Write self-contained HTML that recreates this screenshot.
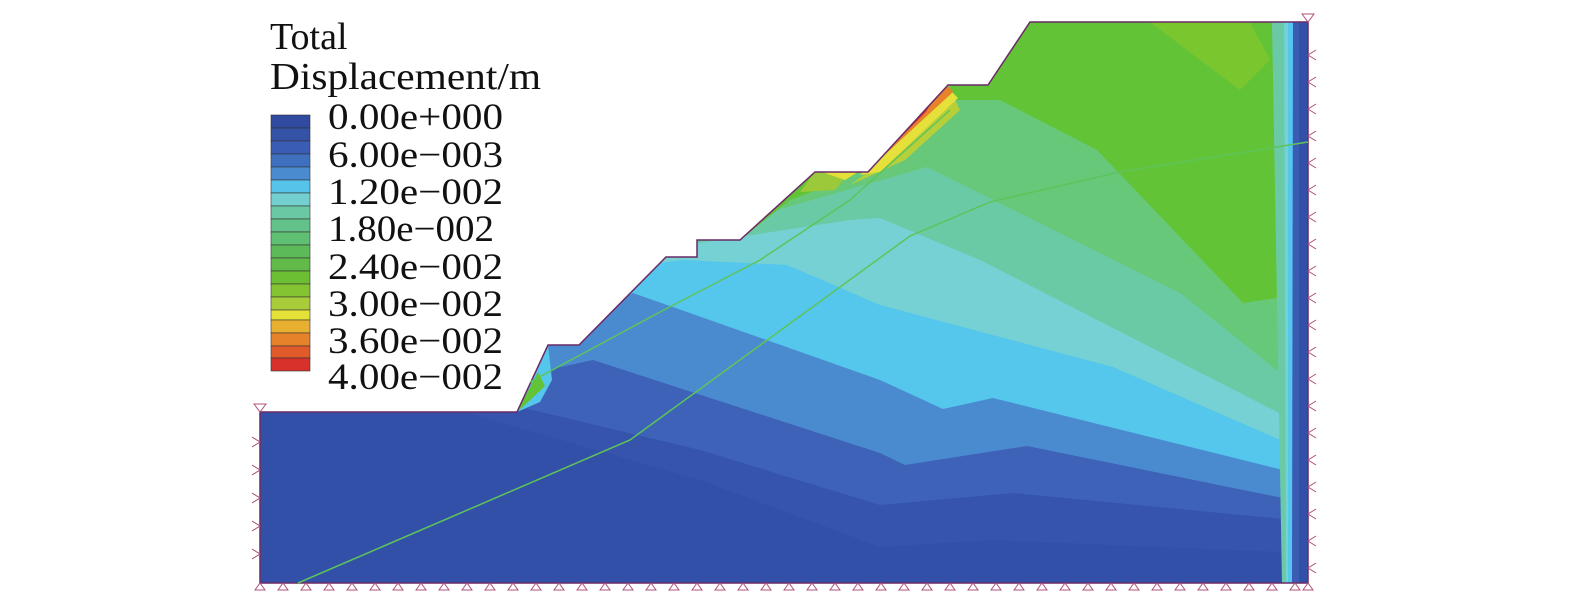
<!DOCTYPE html>
<html><head><meta charset="utf-8"><style>
html,body{margin:0;padding:0;background:#fff;}
svg{display:block}
text{font-family:"Liberation Serif",serif;fill:#111}
</style></head><body>
<svg width="1575" height="610" viewBox="0 0 1575 610" xmlns="http://www.w3.org/2000/svg">
<defs>
<clipPath id="dom"><polygon points="260,583 260,412 512,412 517,412 548,345 579,345 666,257 697,257 697,240 740,240 815,172 868,172 948,85 988,85 1030,22 1308,22 1308,583"/></clipPath>
</defs>
<g clip-path="url(#dom)">
<rect x="250" y="0" width="1100" height="600" fill="#3250a8"/>
<polygon fill="#3654ac" points="440,405 700,480 880,547 993,540 1303,553 1303,0 440,0"/>
<polygon fill="#3d62b8" points="470,395 700,450 880,505 1013,493 1293,520 1293,0 470,0"/>
<polygon fill="#4a8bd0" points="500,380 593,360 880,453 905,465 1027,446 1283,498 1290,0 500,0"/>
<polygon fill="#55c6ec" points="530,345 633,293 880,380 943,409 993,398 1283,470 1290,0 530,0"/>
<polygon fill="#75d1d3" points="600,270 683,260 787,265 880,305 1113,367 1287,443 1290,0 600,0"/>
<polygon fill="#6bcaa6" points="650,250 700,243 850,220 880,218 980,260 1287,417 1290,0 650,0"/>
<polygon fill="#67c87a" points="700,230 777,210 927,167 1180,293 1293,383 1295,0 700,0"/>
<polygon fill="#63c337" points="950,100 1000,100 1097,150 1243,303 1283,297 1295,0 950,0"/>
<polygon fill="#63c337" points="740,240 790,200 830,185 860,172 800,172 760,210"/>
<polygon fill="#7ac62e" points="1150,22 1250,22 1270,60 1240,90 1200,60"/>
<polygon fill="#9cc93a" points="815,172 850,172 835,190 800,192"/>
<polygon fill="#e4e238" points="822,172 858,172 845,180"/>
<polygon fill="#b7d03a" points="850,185 900,150 955,100 960,110 905,160"/>
<polygon fill="#e5e03a" points="860,175 948,88 958,98 880,172"/>
<polygon fill="#e6822a" points="858,173 948,86 953,92 866,172"/>
<polygon fill="#d8372a" points="862,172 930,105 926,112 870,168"/>
<polygon fill="#6bcaa6" points="1272,22 1290,22 1290,583 1282,583"/>
<polygon fill="#75d1d3" points="1284,22 1292,22 1292,583 1286,583"/>
<polygon fill="#55c6ec" points="1288,22 1294,22 1294,583 1288,583"/>
<polygon fill="#3a5cb4" points="1293,22 1308,22 1308,583 1292,583"/>
<polygon fill="#3250a8" points="1299,22 1308,22 1308,583 1299,583"/>
<polygon fill="#55c6ec" points="517,412 548,345 552,380 540,402"/>
<polygon fill="#63c337" points="517,412 538,372 545,386 526,404"/>
</g>
<polygon fill="none" stroke="#6a2a66" stroke-width="1.5" points="260,583 260,412 512,412 517,412 548,345 579,345 666,257 697,257 697,240 740,240 815,172 868,172 948,85 988,85 1030,22 1308,22 1308,583"/>
<polyline fill="none" stroke="#5ec45a" stroke-width="1.5" points="298,583 630,440 910,236 990,202 1120,172 1308,142"/>
<polyline fill="none" stroke="#5ec45a" stroke-width="1.5" points="530,382 660,312 760,260 850,200 950,110"/>
<g stroke="#b0507a" stroke-width="1" fill="none">
<path d="M255,590 l5,-7 l5,7 z M278,590 l5,-7 l5,7 z M301,590 l5,-7 l5,7 z M324,590 l5,-7 l5,7 z M347,590 l5,-7 l5,7 z M370,590 l5,-7 l5,7 z M393,590 l5,-7 l5,7 z M416,590 l5,-7 l5,7 z M439,590 l5,-7 l5,7 z M462,590 l5,-7 l5,7 z M485,590 l5,-7 l5,7 z M508,590 l5,-7 l5,7 z M531,590 l5,-7 l5,7 z M554,590 l5,-7 l5,7 z M577,590 l5,-7 l5,7 z M600,590 l5,-7 l5,7 z M623,590 l5,-7 l5,7 z M646,590 l5,-7 l5,7 z M669,590 l5,-7 l5,7 z M692,590 l5,-7 l5,7 z M715,590 l5,-7 l5,7 z M738,590 l5,-7 l5,7 z M761,590 l5,-7 l5,7 z M784,590 l5,-7 l5,7 z M807,590 l5,-7 l5,7 z M830,590 l5,-7 l5,7 z M853,590 l5,-7 l5,7 z M876,590 l5,-7 l5,7 z M899,590 l5,-7 l5,7 z M922,590 l5,-7 l5,7 z M945,590 l5,-7 l5,7 z M968,590 l5,-7 l5,7 z M991,590 l5,-7 l5,7 z M1014,590 l5,-7 l5,7 z M1037,590 l5,-7 l5,7 z M1060,590 l5,-7 l5,7 z M1083,590 l5,-7 l5,7 z M1106,590 l5,-7 l5,7 z M1129,590 l5,-7 l5,7 z M1152,590 l5,-7 l5,7 z M1175,590 l5,-7 l5,7 z M1198,590 l5,-7 l5,7 z M1221,590 l5,-7 l5,7 z M1244,590 l5,-7 l5,7 z M1267,590 l5,-7 l5,7 z M1290,590 l5,-7 l5,7 z M1303,590 l5,-7 l5,7 z"/>
<path d="M1316,50 l-8,5 l8,5 M1316,77 l-8,5 l8,5 M1316,104 l-8,5 l8,5 M1316,131 l-8,5 l8,5 M1316,158 l-8,5 l8,5 M1316,185 l-8,5 l8,5 M1316,212 l-8,5 l8,5 M1316,239 l-8,5 l8,5 M1316,266 l-8,5 l8,5 M1316,293 l-8,5 l8,5 M1316,320 l-8,5 l8,5 M1316,347 l-8,5 l8,5 M1316,374 l-8,5 l8,5 M1316,401 l-8,5 l8,5 M1316,428 l-8,5 l8,5 M1316,455 l-8,5 l8,5 M1316,482 l-8,5 l8,5 M1316,509 l-8,5 l8,5 M1316,536 l-8,5 l8,5 M1316,563 l-8,5 l8,5"/>
<path d="M252,437 l8,5 l-8,5 M252,465 l8,5 l-8,5 M252,493 l8,5 l-8,5 M252,521 l8,5 l-8,5 M252,549 l8,5 l-8,5"/>
<path d="M1302,14 l6,8 l6,-8 z M254,404 l6,8 l6,-8 z"/>
</g>
<g stroke="#333" stroke-width="0.6">
<rect x="271" y="115" width="39" height="13" fill="#2f4a9e"/>
<rect x="271" y="128" width="39" height="13" fill="#3452a6"/>
<rect x="271" y="141" width="39" height="13" fill="#3a5cb4"/>
<rect x="271" y="154" width="39" height="13" fill="#3f70c0"/>
<rect x="271" y="167" width="39" height="13" fill="#4a8bd0"/>
<rect x="271" y="180" width="39" height="13" fill="#55c4ea"/>
<rect x="271" y="193" width="39" height="13" fill="#74cfd0"/>
<rect x="271" y="206" width="39" height="13" fill="#6bc8a4"/>
<rect x="271" y="219" width="39" height="13" fill="#62c28a"/>
<rect x="271" y="232" width="39" height="13" fill="#5fbf72"/>
<rect x="271" y="245" width="39" height="13" fill="#5cbb58"/>
<rect x="271" y="258" width="39" height="13" fill="#62bb48"/>
<rect x="271" y="271" width="39" height="13" fill="#6cbf33"/>
<rect x="271" y="284" width="39" height="13" fill="#84c432"/>
<rect x="271" y="297" width="39" height="13" fill="#a9cc3a"/>
<rect x="271" y="310" width="39" height="10" fill="#e4e238"/>
<rect x="271" y="320" width="39" height="13" fill="#e8b030"/>
<rect x="271" y="333" width="39" height="13" fill="#e6822a"/>
<rect x="271" y="346" width="39" height="12" fill="#e05a2a"/>
<rect x="271" y="358" width="39" height="13" fill="#d8302a"/>
</g>
<text x="270" y="49" font-size="38">Total</text>
<text x="270" y="89" font-size="38" textLength="271" lengthAdjust="spacingAndGlyphs">Displacement/m</text>
<g font-size="37">
<text x="328" y="129" textLength="175" lengthAdjust="spacingAndGlyphs">0.00e+000</text>
<text x="328" y="167" textLength="175" lengthAdjust="spacingAndGlyphs">6.00e−003</text>
<text x="328" y="204" textLength="175" lengthAdjust="spacingAndGlyphs">1.20e−002</text>
<text x="328" y="241" textLength="166" lengthAdjust="spacingAndGlyphs">1.80e−002</text>
<text x="328" y="279" textLength="175" lengthAdjust="spacingAndGlyphs">2.40e−002</text>
<text x="328" y="316" textLength="175" lengthAdjust="spacingAndGlyphs">3.00e−002</text>
<text x="328" y="353" textLength="175" lengthAdjust="spacingAndGlyphs">3.60e−002</text>
<text x="328" y="389" textLength="175" lengthAdjust="spacingAndGlyphs">4.00e−002</text>
</g>
</svg>
</body></html>
